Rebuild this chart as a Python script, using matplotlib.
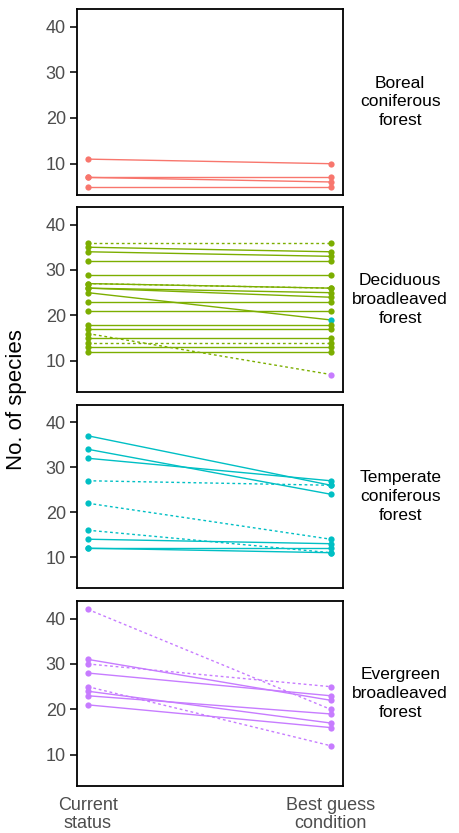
import numpy as np
import matplotlib.pyplot as plt

plt.rcParams['font.family'] = ['Liberation Sans', 'DejaVu Sans']

forests = ['Boreal\nconiferous\nforest', 'Deciduous\nbroadleaved\nforest',
           'Temperate\nconiferous\nforest', 'Evergreen\nbroadleaved\nforest']
colors = ['#F8766D', '#7CAE00', '#00BFC4', '#C77CFF']
xlabels = ['Current\nstatus', 'Best guess\ncondition']

# current -> best guess, dashed flag, forest index of the end point
boreal_cur = [11, 7, 7, 5]
boreal_best = [10, 7, 6, 5]
boreal_dash = [0, 0, 0, 0]
boreal_end = [0, 0, 0, 0]

decid_cur = [36, 35, 34, 32, 29, 27, 27, 26, 26, 25, 23, 21, 18, 17, 16, 15, 14, 13, 12]
decid_best = [36, 34, 33, 32, 29, 26, 26, 25, 24, 19, 23, 21, 18, 17, 7, 15, 14, 13, 12]
decid_dash = [1, 0, 0, 0, 0, 1, 0, 0, 0, 0, 0, 0, 0, 0, 1, 0, 1, 0, 0]
decid_end = [1, 1, 1, 1, 1, 1, 1, 1, 1, 2, 1, 1, 1, 1, 3, 1, 1, 1, 1]

temp_cur = [37, 34, 32, 27, 22, 16, 14, 12, 12]
temp_best = [26, 24, 27, 26, 14, 11, 13, 12, 11]
temp_dash = [0, 0, 0, 1, 1, 1, 0, 0, 0]
temp_end = [2, 2, 2, 2, 2, 2, 2, 2, 2]

ever_cur = [42, 31, 30, 28, 25, 24, 23, 21]
ever_best = [20, 22, 25, 23, 12, 17, 19, 16]
ever_dash = [1, 0, 1, 0, 1, 0, 0, 0]
ever_end = [3, 3, 3, 3, 3, 3, 3, 3]

panels = [
    (boreal_cur, boreal_best, boreal_dash, boreal_end),
    (decid_cur, decid_best, decid_dash, decid_end),
    (temp_cur, temp_best, temp_dash, temp_end),
    (ever_cur, ever_best, ever_dash, ever_end),
]

fig = plt.figure(figsize=(4.6, 8.33), dpi=100)
W, H = 460, 833
tops = [9, 207, 405, 601]
bottoms = [195, 392, 588, 786]
left, right = 77, 343

for i, (cur, best, dash, end) in enumerate(panels):
    ax = fig.add_axes([left / W, 1 - bottoms[i] / H, (right - left) / W,
                       (bottoms[i] - tops[i]) / H])
    c = colors[i]
    for a, b, d, e in zip(cur, best, dash, end):
        ax.plot([1, 2], [a, b], color=c, lw=1.0,
                ls=(0, (2, 2)) if d else '-', zorder=2)
        ax.plot(1, a, 'o', color=c, ms=4.5, mec='none', zorder=3)
        ax.plot(2, b, 'o', color=colors[e], ms=4.5, mec='none', zorder=3)
    ax.set_xlim(0.955, 2.05)
    ax.set_ylim(3.15, 43.85)
    ax.set_yticks([10, 20, 30, 40])
    ax.tick_params(axis='y', labelsize=13, labelcolor='#4D4D4D', length=5,
                   width=1.4, color='#333333', pad=3)
    for s in ax.spines.values():
        s.set_linewidth(1.3)
        s.set_color('black')
    if i == 3:
        ax.set_xticks([1, 2])
        ax.set_xticklabels(xlabels)
        ax.tick_params(axis='x', labelsize=13, labelcolor='#4D4D4D', length=0,
                       pad=8)
        for lab in ax.get_xticklabels():
            lab.set_linespacing(1.1)
    else:
        ax.set_xticks([])
    ax.text(1.215, 0.5, forests[i], transform=ax.transAxes, ha='center',
            va='center', fontsize=12.5, linespacing=1.3)

fig.text(17 / W, 1 - 400 / H, 'No. of species', rotation=90, ha='center',
         va='center', fontsize=16)

fig.savefig('out.png', dpi=100)
